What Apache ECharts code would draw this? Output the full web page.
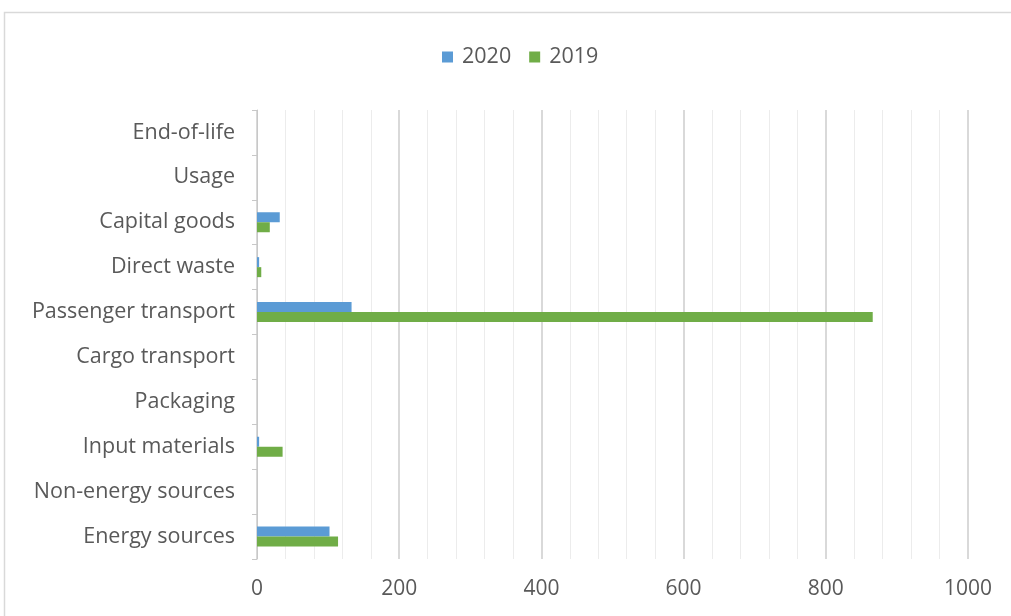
<!DOCTYPE html>
<html>
<head>
<meta charset="utf-8">
<script src="https://cdn.jsdelivr.net/npm/echarts@6/dist/echarts.min.js"></script>
<style>
  html, body { margin: 0; padding: 0; background: #ffffff; }
  #chart { width: 1011px; height: 616px; }
</style>
</head>
<body>
<div id="chart"></div>
<script>
// Emission categories, listed bottom to top
const categories = [
  'Energy sources', 'Non-energy sources', 'Input materials', 'Packaging',
  'Cargo transport', 'Passenger transport', 'Direct waste', 'Capital goods',
  'Usage', 'End-of-life'
];
const values2020 = [102, 0, 3, 0, 0, 133, 3, 32, 0, 0];
const values2019 = [114, 0, 36, 0, 0, 866, 6, 18, 0, 0];
const seriesNames = ['2020', '2019'];

const font = 'Open Sans, Lato, sans-serif';
const textColor = '#595959';
const chart = echarts.init(document.getElementById('chart'), null, { renderer: 'canvas' });

chart.setOption({
  animation: false,
  backgroundColor: '#ffffff',
  color: ['#5B9BD5', '#70AD47'],
  graphic: [{
    type: 'rect',
    shape: { x: 4.5, y: 12.5, width: 1100, height: 700 },
    style: { fill: 'none', stroke: '#d9d9d9', lineWidth: 1.5 },
    silent: true
  }],
  legend: {
    top: 41,
    left: 437,
    itemWidth: 11,
    itemHeight: 11,
    itemGap: 18,
    icon: 'rect',
    textStyle: { fontFamily: font, fontSize: 21.5, color: textColor, padding: [0, 0, 0, 4] },
    data: seriesNames
  },
  grid: { left: 257, right: 43, top: 110, bottom: 57, containLabel: false },
  xAxis: {
    type: 'value',
    min: 0,
    max: 1000,
    interval: 200,
    axisLine: { show: false },
    axisTick: { show: false },
    axisLabel: {
      margin: 20, fontFamily: font, fontSize: 21, color: textColor,
      formatter: v => String(v)
    },
    splitLine: { show: true, lineStyle: { color: '#d9d9d9', width: 2 } },
    minorTick: { show: false, splitNumber: 5 },
    minorSplitLine: { show: true, lineStyle: { color: '#ececec', width: 1 } }
  },
  yAxis: {
    type: 'category',
    data: categories,
    axisLine: { show: true, lineStyle: { color: '#c8c8c8', width: 1 } },
    axisTick: { show: true, length: 5, lineStyle: { color: '#c8c8c8' } },
    axisLabel: { margin: 22, fontFamily: font, fontSize: 21.5, color: textColor },
    splitLine: { show: false }
  },
  series: [
    { name: seriesNames[0], type: 'bar', data: values2020, barWidth: 10, barGap: '0%' },
    { name: seriesNames[1], type: 'bar', data: values2019, barWidth: 10, barGap: '0%' }
  ]
});
</script>
</body>
</html>
